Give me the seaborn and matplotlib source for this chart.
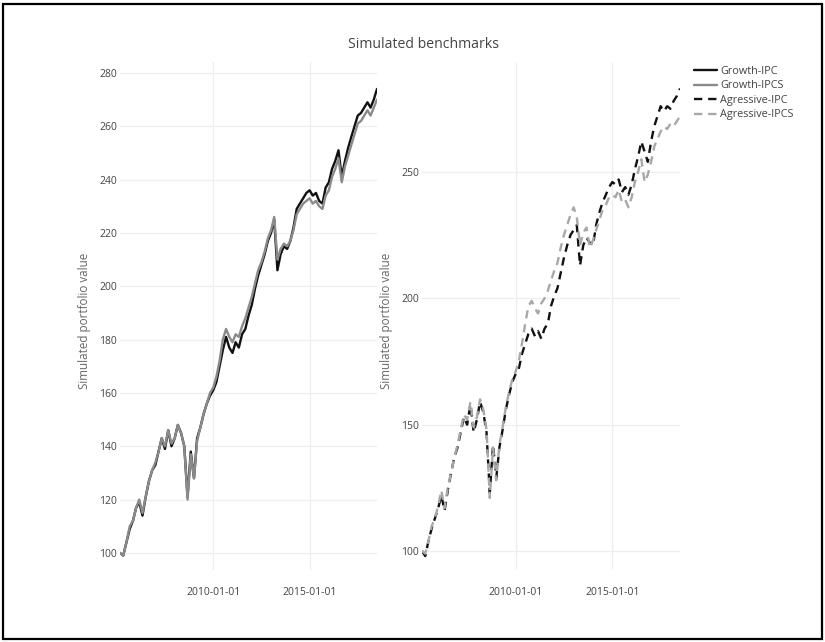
import numpy as np
import pandas as pd
import matplotlib
matplotlib.use("Agg")
import matplotlib.pyplot as plt
import seaborn as sns
from matplotlib.lines import Line2D
from matplotlib.patches import Rectangle

# ---------------- data (every 2 months) ----------------
start_date = "2005-03-01"
n_points = 81

growth_ipc = [
    100, 99, 104, 109, 112,
    117, 119, 114, 121, 127, 131,
    133, 138, 143, 139, 146, 140,
    143, 148, 145, 140, 121, 138,
    128, 143, 147, 152, 156, 159,
    161, 164, 170, 176, 181, 177,
    175, 179, 177, 182, 184, 189,
    193, 199, 204, 208, 212, 217,
    220, 225, 206, 212, 215, 214,
    217, 222, 229, 231, 233, 235,
    236, 234, 235, 232, 231, 237,
    239, 244, 247, 251, 241, 247,
    252, 256, 260, 264, 265, 267,
    269, 267, 270, 274,
]
growth_ipcs = [
    100, 99, 104, 110, 112,
    117, 120, 115, 121, 127, 131,
    134, 138, 143, 140, 146, 141,
    143, 148, 145, 140, 120, 137,
    128, 142, 147, 152, 156, 160,
    162, 166, 172, 180, 184, 181,
    179, 182, 181, 185, 188, 192,
    196, 201, 206, 209, 213, 218,
    221, 226, 210, 214, 216, 215,
    217, 221, 227, 229, 231, 232,
    233, 231, 232, 230, 229, 234,
    236, 241, 244, 248, 239, 245,
    249, 253, 257, 261, 262, 264,
    266, 264, 267, 270,
]
aggressive_ipc = [
    100, 98, 104, 109, 113,
    117, 122, 116, 124, 131, 137,
    141, 147, 153, 150, 158, 147,
    152, 159, 155, 147, 123, 142,
    129, 141, 148, 156, 162, 167,
    170, 172, 178, 182, 186, 188,
    185, 187, 184, 188, 190, 197,
    201, 204, 210, 216, 221, 225,
    227, 229, 213, 221, 224, 222,
    221, 229, 234, 238, 241, 244,
    246, 245, 247, 242, 244, 241,
    245, 251, 256, 262, 258, 254,
    262, 268, 272, 276, 274, 276,
    275, 278, 280, 283,
]
aggressive_ipcs = [
    100, 99, 104, 110, 113,
    118, 124, 117, 125, 131, 137,
    142, 148, 154, 152, 159, 149,
    153, 160, 156, 148, 121, 141,
    128, 142, 149, 157, 163, 168,
    171, 175, 182, 190, 197, 199,
    196, 194, 198, 200, 203, 207,
    211, 214, 220, 225, 229, 233,
    236, 232, 221, 226, 228, 220,
    223, 227, 231, 235, 237, 240,
    241, 240, 243, 238, 239, 236,
    240, 246, 250, 255, 246, 249,
    254, 260, 263, 266, 268, 267,
    269, 268, 270, 272,
]

series_names = ["Growth-IPC", "Growth-IPCS", "Agressive-IPC", "Agressive-IPCS"]
x_tick_labels = ["2010-01-01", "2015-01-01"]
left_yticks = [100, 120, 140, 160, 180, 200, 220, 240, 260, 280]
right_yticks = [100, 150, 200, 250]

dates = pd.date_range(start_date, periods=n_points, freq="2MS")

def long_df(names, arrays):
    frames = []
    for nm, arr in zip(names, arrays):
        frames.append(pd.DataFrame({"date": dates, "value": arr, "series": nm}))
    return pd.concat(frames, ignore_index=True)

df_growth = long_df(series_names[:2], [growth_ipc, growth_ipcs])
df_aggr = long_df(series_names[2:], [aggressive_ipc, aggressive_ipcs])

# ---------------- styling ----------------
sns.set_theme(style="white")
plt.rcParams["font.family"] = ["Open Sans", "DejaVu Sans"]

colors = {"Growth-IPC": "#111111", "Growth-IPCS": "#8a8a8a",
          "Agressive-IPC": "#111111", "Agressive-IPCS": "#a8a8a8"}
dashes = {"Growth-IPC": "", "Growth-IPCS": "",
          "Agressive-IPC": (3.5, 2.5), "Agressive-IPCS": (3.5, 2.5)}

W, H = 825, 642
fig = plt.figure(figsize=(W / 100, H / 100), dpi=100)

def rect(x0, y0, x1, y1):
    return [x0 / W, 1 - y1 / H, (x1 - x0) / W, (y1 - y0) / H]

ax1 = fig.add_axes(rect(120, 62, 377, 570))
ax2 = fig.add_axes(rect(422, 62, 680, 570))

for ax, df, names in [(ax1, df_growth, series_names[:2]), (ax2, df_aggr, series_names[2:])]:
    sns.lineplot(data=df, x="date", y="value", hue="series", style="series",
                 palette={n: colors[n] for n in names},
                 dashes={n: dashes[n] for n in names},
                 linewidth=1.7, ax=ax, legend=False)
    ax.set_xlim(dates[0], dates[-1])
    ax.set_xticks([pd.Timestamp(t) for t in x_tick_labels])
    ax.set_xticklabels(x_tick_labels)
    ax.grid(True, color="#eeeeee", linewidth=0.9)
    ax.set_axisbelow(True)
    for s in ax.spines.values():
        s.set_visible(False)
    ax.tick_params(axis="both", length=0, labelsize=7.5, colors="#444444")
    ax.tick_params(axis="y", pad=2.0)
    ax.tick_params(axis="x", pad=12.5)
    ax.set_xlabel("")
    ax.set_ylabel("Simulated portfolio value", fontsize=8.4, color="#666666")

ax1.set_ylim(93.6, 284.1)
ax1.set_yticks(left_yticks)
ax1.yaxis.set_label_coords((91 - 120) / 257, 1 - (321 - 62) / 508)

ax2.set_ylim(92.5, 293.5)
ax2.set_yticks(right_yticks)
ax2.yaxis.set_label_coords((393 - 422) / 258, 1 - (321 - 62) / 508)

fig.text(423 / W, 1 - 45 / H, "Simulated benchmarks", ha="center", va="center",
         fontsize=10.1, color="#444444")

handles = [Line2D([], [], color=colors[n], linewidth=1.7,
                  linestyle="-" if dashes[n] == "" else (0, dashes[n]))
           for n in series_names]
fig.legend(handles, series_names, loc="upper left",
           bbox_to_anchor=(694 / W, 1 - 66 / H), frameon=False,
           fontsize=7.8, handlelength=2.1, handletextpad=0.3,
           labelspacing=0.32, borderpad=0, borderaxespad=0,
           labelcolor="#444444")

fig.patches.append(Rectangle((3 / W, 3 / H), 819 / W, 635 / H,
                             transform=fig.transFigure, fill=False,
                             edgecolor="black", linewidth=1.6))

fig.savefig("out.png", dpi=100)
